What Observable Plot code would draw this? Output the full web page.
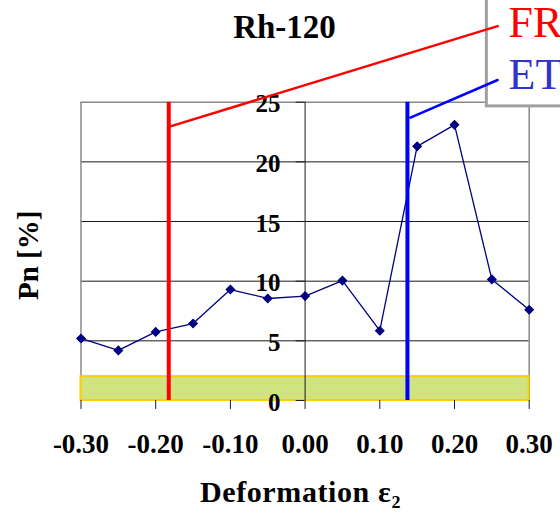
<!DOCTYPE html>
<html>
<head>
<meta charset="utf-8">
<script src="https://cdn.jsdelivr.net/npm/d3@7"></script>
<script src="https://cdn.jsdelivr.net/npm/@observablehq/plot@0.6"></script>
<style>
  html, body { margin: 0; padding: 0; background: #fff; }
  svg { display: block; }
</style>
</head>
<body>
<div id="chart"></div>
<script>
// ---- data ----
const deformation = [-0.30, -0.25, -0.20, -0.15, -0.10, -0.05, 0.00, 0.05, 0.10, 0.15, 0.20, 0.25, 0.30];
const pn          = [5.2, 4.2, 5.75, 6.45, 9.3, 8.55, 8.75, 10.05, 5.85, 21.3, 23.1, 10.15, 7.6];
const xTicks = [-0.30, -0.20, -0.10, 0.00, 0.10, 0.20, 0.30];
const yTicks = [0, 5, 10, 15, 20, 25];
const gridY = [5, 10, 15, 20];
const band = [{x1: -0.30, x2: 0.30, y1: 0, y2: 2}];
const limitNames = ["FR", "ET"];
const limitX = [-0.1825, 0.137];
const limitColors = ["#ff0000", "#0000ff"];
const legendColors = ["#ff0000", "#3333cc"];
const frLeader = [{x: -0.1825, y: 22.93}, {x: 0.2577, y: 31.38}];
const etLeader = [{x: 0.141, y: 23.71}, {x: 0.2577, y: 26.86}];
const legendBox = [{x1: 0.2433, x2: 0.40, y1: 24.65, y2: 40}];
const legendPos = [{x: 0.2723, y: 30.46}, {x: 0.2723, y: 26.11}];

const data = deformation.map((d, i) => ({x: d, y: pn[i]}));
const serif = "'Liberation Serif', 'Times New Roman', serif";

const chart = Plot.plot({
  width: 560,
  height: 516,
  marginLeft: 80.5,
  marginRight: 31.3,
  marginTop: 101.7,
  marginBottom: 116,
  x: {domain: [-0.30, 0.30], axis: null},
  y: {domain: [0, 25], axis: null},
  style: {fontFamily: serif, background: "#fff", overflow: "visible"},
  marks: [
    // grid
    Plot.ruleY(gridY, {x1: -0.30, x2: 0.30, stroke: "#1a1a1a", strokeWidth: 1}),
    Plot.ruleY([25], {x1: -0.30, x2: 0.30, stroke: "#8a8a8a", strokeWidth: 1.5}),
    Plot.ruleX([-0.30, 0.30], {y1: 0, y2: 25, stroke: "#8a8a8a", strokeWidth: 1.5}),
    // green band
    Plot.rect(band, {x1: "x1", x2: "x2", y1: "y1", y2: "y2", fill: "#cfe47f", stroke: "#ffcc00", strokeWidth: 2}),
    // y axis at x = 0
    Plot.ruleX([0], {y1: 0, y2: 25, stroke: "#1a1a1a", strokeWidth: 1}),
    Plot.ruleY(yTicks, {x1: -0.012, x2: 0, stroke: "#1a1a1a", strokeWidth: 1}),
    Plot.text(yTicks, {x: 0, y: d => d, text: d => String(d), dx: -24.6, dy: 2, textAnchor: "end",
      fontSize: 25, fontWeight: "bold", fill: "#000"}),
    // x axis ticks
    Plot.ruleX(xTicks, {x: d => d, y1: 0, y2: -0.75, stroke: "#1a1a1a", strokeWidth: 1}),
    Plot.text(xTicks, {x: d => d, y: 0, text: d => d.toFixed(2), dy: 52, lineAnchor: "bottom",
      fontSize: 27, fontWeight: "bold", fill: "#000"}),
    // data line
    Plot.line(data, {x: "x", y: "y", stroke: "#000080", strokeWidth: 1.3}),
    Plot.dot(data, {x: "x", y: "y", symbol: "diamond2", fill: "#000080", stroke: "#000080", r: 3.6}),
    // limit verticals
    Plot.ruleX(limitX, {x: d => d, y1: 0, y2: 25, stroke: (d, i) => limitColors[i], strokeWidth: 4}),
    // legend box
    Plot.rect(legendBox, {x1: "x1", x2: "x2", y1: "y1", y2: "y2", fill: "#fff", stroke: "#a0a0a0", strokeWidth: 3}),
    // leaders
    Plot.line(frLeader, {x: "x", y: "y", stroke: limitColors[0], strokeWidth: 2.5}),
    Plot.line(etLeader, {x: "x", y: "y", stroke: limitColors[1], strokeWidth: 2.5}),
    // legend labels
    Plot.text(limitNames, {x: (d, i) => legendPos[i].x, y: (d, i) => legendPos[i].y, text: d => d,
      textAnchor: "start", lineAnchor: "bottom", fontSize: 44, fill: (d, i) => legendColors[i]}),
    // title
    Plot.text(["Rh-120"], {frameAnchor: "top", dx: -20.6, dy: -64.7, textAnchor: "middle", lineAnchor: "bottom",
      fontSize: 33, fontWeight: "bold", fill: "#000"}),
    // axis labels
    Plot.text(["Deformation ε₂"], {frameAnchor: "bottom", dx: -4.6, dy: 101, textAnchor: "middle", lineAnchor: "bottom",
      fontSize: 30, fontWeight: "bold", fill: "#000", className: "xlabel"}),
    Plot.text(["Pn [%]"], {frameAnchor: "left", rotate: -90, dx: -43.5, dy: 4, textAnchor: "middle", lineAnchor: "bottom",
      fontSize: 29, fontWeight: "bold", fill: "#000"})
  ]
});
d3.select(chart).selectAll("text").filter(function() { return this.textContent.startsWith("Deformation"); })
  .attr("letter-spacing", "0.6");
document.getElementById("chart").appendChild(chart);
</script>
</body>
</html>
